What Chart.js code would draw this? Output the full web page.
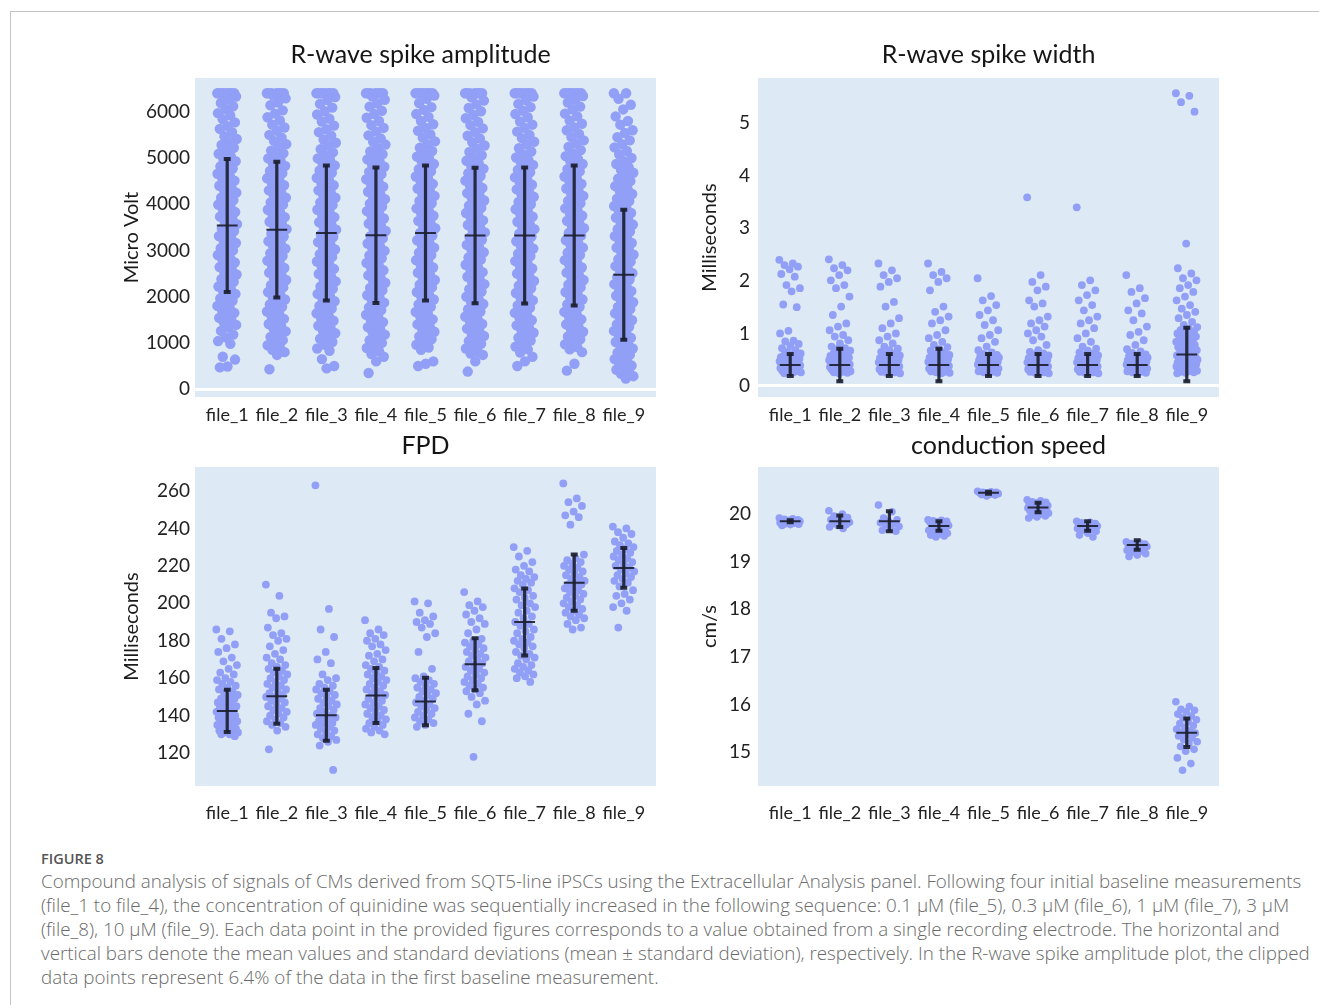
<!DOCTYPE html>
<html lang="en">
<head>
<meta charset="utf-8">
<title>Figure 8</title>
<script src="https://cdn.jsdelivr.net/npm/chart.js@4.4.1/dist/chart.umd.min.js"></script>
<style>
    html, body { margin: 0; padding: 0; background: #fff; }
    body { width: 1319px; height: 1005px; position: relative; overflow: hidden; }
    .frame { position: absolute; left: 10px; top: 11px; width: 1400px; height: 1100px;
             border-top: 1px solid #c4c4c4; border-left: 1px solid #c4c4c4; }
    canvas { position: absolute; }
    #caption { position: absolute; left: 41px; top: 849px; white-space: nowrap; color: #6a6a6a;
               font-family: "Open Sans", sans-serif; font-size: 18.8px; line-height: 24px; font-weight: 300; }
    #caption .fig { font-size: 14.5px; font-weight: 600; color: #555; line-height: 20px; }
</style>
</head>
<body>
<div class="frame"></div>
<canvas id="ampChart" width="570" height="410" style="left:100px;top:20px"></canvas>
<canvas id="widthChart" width="570" height="410" style="left:670px;top:20px"></canvas>
<canvas id="fpdChart" width="570" height="425" style="left:100px;top:420px"></canvas>
<canvas id="speedChart" width="570" height="425" style="left:670px;top:420px"></canvas>
<div id="caption">
    <div class="fig">FIGURE 8</div>
    Compound analysis of signals of CMs derived from SQT5-line iPSCs using the Extracellular Analysis panel. Following four initial baseline measurements<br>
    (file_1 to file_4), the concentration of quinidine was sequentially increased in the following sequence: 0.1 μM (file_5), 0.3 μM (file_6), 1 μM (file_7), 3 μM<br>
    (file_8), 10 μM (file_9). Each data point in the provided figures corresponds to a value obtained from a single recording electrode. The horizontal and<br>
    vertical bars denote the mean values and standard deviations (mean ± standard deviation), respectively. In the R-wave spike amplitude plot, the clipped<br>
    data points represent 6.4% of the data in the first baseline measurement.
</div>
<script>
// Categorias (um grupo por arquivo de medição)
const files = ['file_1', 'file_2', 'file_3', 'file_4', 'file_5', 'file_6', 'file_7', 'file_8', 'file_9'];

// R-wave spike amplitude (µV), valores cortados em 6400
const amp1 = [6400,6400,6400,6400,6400,6400,6400,6400,6330,6270,6190,6120,6060,5970,5920,5840,5770,5690,5630,5560,5470,5410,5350,5280,5220,5150,5090,5030,4980,4930,4870,4820,4770,4720,4660,4610,4560,4510,4460,4400,4350,4300,4250,4200,4140,4090,4040,3990,3940,3880,3830,3780,3730,3680,3620,3570,3520,3470,3420,3360,3310,3260,3210,3160,3100,3050,3000,2950,2900,2840,2790,2740,2690,2640,2580,2530,2480,2430,2380,2320,2270,2220,2170,2120,2060,2010,1960,1910,1860,1800,1750,1700,1650,1600,1540,1490,1440,1390,1330,1260,1180,1120,1040,980,700,640,490,470];
const amp2 = [6400,6400,6400,6400,6400,6400,6400,6350,6290,6200,6140,6030,5960,5880,5810,5720,5660,5590,5500,5440,5370,5300,5240,5160,5100,5040,4990,4940,4880,4830,4770,4720,4670,4620,4560,4510,4460,4410,4350,4300,4250,4200,4140,4090,4040,3990,3930,3880,3830,3780,3720,3670,3620,3570,3510,3460,3410,3360,3300,3250,3200,3150,3090,3040,2990,2940,2880,2830,2780,2730,2670,2620,2570,2520,2460,2410,2360,2310,2250,2200,2150,2100,2040,1990,1940,1890,1830,1780,1730,1680,1620,1570,1520,1470,1410,1360,1310,1250,1190,1130,1060,990,950,900,850,800,740,430];
const amp3 = [6400,6400,6400,6400,6400,6400,6400,6400,6320,6250,6170,6090,6010,5940,5850,5790,5700,5620,5560,5480,5400,5330,5270,5190,5120,5060,4990,4950,4890,4840,4780,4730,4680,4620,4570,4520,4460,4410,4360,4300,4250,4200,4140,4090,4040,3980,3930,3880,3820,3770,3720,3660,3610,3560,3500,3450,3400,3340,3290,3240,3180,3130,3080,3020,2970,2920,2860,2810,2760,2700,2650,2600,2540,2490,2440,2380,2330,2280,2220,2170,2120,2060,2010,1960,1900,1850,1800,1740,1690,1640,1580,1530,1480,1420,1370,1320,1260,1210,1150,1090,1020,960,880,830,650,500,450];
const amp4 = [6400,6400,6400,6400,6400,6400,6400,6330,6260,6180,6110,6020,5950,5870,5800,5710,5650,5570,5490,5420,5350,5290,5210,5140,5080,5020,4970,4920,4860,4810,4750,4700,4650,4590,4540,4490,4430,4380,4330,4270,4220,4170,4110,4060,4010,3950,3900,3850,3790,3740,3690,3630,3580,3530,3470,3420,3370,3310,3260,3210,3150,3100,3050,2990,2940,2890,2830,2780,2730,2670,2620,2570,2510,2460,2410,2350,2300,2250,2190,2140,2090,2030,1980,1930,1870,1820,1770,1710,1660,1610,1550,1500,1450,1390,1340,1290,1230,1180,1120,1060,1000,940,890,820,760,700,600,350];
const amp5 = [6400,6400,6400,6400,6400,6400,6400,6400,6350,6280,6190,6100,6040,5950,5890,5800,5730,5650,5590,5510,5440,5360,5300,5220,5150,5090,5030,4980,4930,4870,4820,4760,4710,4660,4600,4550,4500,4440,4390,4340,4280,4230,4180,4120,4070,4020,3960,3910,3860,3800,3750,3700,3640,3590,3540,3480,3430,3380,3320,3270,3220,3160,3110,3060,3000,2950,2900,2840,2790,2740,2680,2630,2580,2520,2470,2420,2360,2310,2260,2200,2150,2100,2040,1990,1940,1880,1830,1780,1720,1670,1620,1560,1510,1460,1400,1350,1300,1240,1190,1140,1080,1020,960,900,850,600,550,500];
const amp6 = [6400,6400,6400,6400,6400,6400,6400,6310,6240,6160,6080,6010,5930,5860,5780,5710,5640,5560,5480,5420,5340,5270,5200,5130,5060,4990,4940,4880,4830,4770,4720,4670,4610,4560,4510,4450,4400,4350,4290,4240,4190,4130,4080,4030,3970,3920,3870,3810,3760,3710,3650,3600,3550,3490,3440,3390,3330,3280,3230,3170,3120,3070,3010,2960,2910,2850,2800,2750,2690,2640,2590,2530,2480,2430,2370,2320,2270,2210,2160,2110,2050,2000,1950,1890,1840,1790,1730,1680,1630,1570,1520,1470,1410,1360,1310,1250,1200,1150,1090,1040,980,930,880,800,770,740,600,380];
const amp7 = [6400,6400,6400,6400,6400,6400,6400,6400,6330,6250,6170,6100,6020,5950,5880,5790,5720,5650,5570,5500,5430,5350,5290,5210,5140,5070,5010,4960,4910,4850,4800,4740,4690,4640,4580,4530,4480,4420,4370,4320,4260,4210,4160,4100,4050,4000,3940,3890,3840,3780,3730,3680,3620,3570,3520,3460,3410,3360,3300,3250,3200,3140,3090,3040,2980,2930,2880,2820,2770,2720,2660,2610,2560,2500,2450,2400,2340,2290,2240,2180,2130,2080,2020,1970,1920,1860,1810,1760,1700,1650,1600,1540,1490,1440,1380,1330,1280,1220,1170,1110,1050,990,920,860,790,700,600,500];
const amp8 = [6400,6400,6400,6400,6400,6400,6400,6400,6340,6260,6200,6110,6050,5960,5900,5810,5740,5660,5600,5520,5450,5380,5310,5240,5170,5100,5040,4980,4930,4870,4820,4760,4710,4660,4600,4550,4500,4440,4390,4340,4280,4230,4180,4120,4070,4020,3960,3910,3860,3800,3750,3700,3640,3590,3540,3480,3430,3380,3320,3270,3220,3160,3110,3060,3000,2950,2900,2840,2790,2740,2680,2630,2580,2520,2470,2420,2360,2310,2260,2200,2150,2100,2040,1990,1940,1880,1830,1780,1720,1670,1620,1560,1510,1460,1400,1350,1300,1240,1190,1140,1080,1030,970,910,860,800,550,400];
const amp9 = [6400,6400,6280,6150,6050,5900,5800,5720,5600,5540,5450,5380,5300,5230,5150,5080,5000,4930,4870,4800,4740,4680,4610,4550,4500,4440,4390,4330,4280,4220,4170,4120,4070,4020,3960,3910,3860,3810,3760,3710,3660,3610,3560,3510,3460,3410,3360,3310,3260,3210,3160,3110,3060,3010,2960,2910,2860,2810,2760,2710,2660,2610,2560,2510,2460,2420,2370,2320,2270,2220,2170,2120,2070,2020,1980,1930,1880,1830,1780,1730,1690,1640,1590,1540,1490,1450,1400,1350,1300,1260,1210,1160,1110,1070,1020,970,930,880,830,790,740,690,650,600,560,510,470,420,380,330,280,230];
const ampMean = [3540, 3450, 3375, 3330, 3380, 3325, 3325, 3325, 2475];
const ampSd = [1440, 1470, 1460, 1465, 1460, 1465, 1470, 1515, 1405];
const ampTicks = [0, 1000, 2000, 3000, 4000, 5000, 6000];

// R-wave spike width (ms)
const wid1 = [2.40,2.33,2.30,2.27,2.22,2.13,2.08,1.92,1.86,1.80,1.55,1.50,1.05,1.00,0.86,0.85,0.80,0.76,0.72,0.68,0.65,0.62,0.60,0.58,0.57,0.56,0.55,0.54,0.53,0.52,0.51,0.50,0.49,0.48,0.47,0.46,0.45,0.44,0.43,0.42,0.41,0.40,0.39,0.38,0.37,0.36,0.35,0.34,0.33,0.32,0.31,0.30,0.29,0.28,0.27,0.26,0.25,0.24];
const wid2 = [2.41,2.30,2.24,2.20,2.11,2.01,1.92,1.86,1.70,1.51,1.35,1.19,1.13,1.06,0.97,0.94,0.87,0.81,0.75,0.72,0.70,0.67,0.64,0.62,0.60,0.58,0.57,0.56,0.55,0.54,0.53,0.52,0.51,0.50,0.49,0.48,0.47,0.46,0.45,0.44,0.43,0.42,0.41,0.40,0.39,0.38,0.37,0.36,0.35,0.34,0.33,0.32,0.31,0.30,0.29,0.28,0.27,0.26,0.25,0.24];
const wid3 = [2.33,2.20,2.11,2.05,1.98,1.89,1.60,1.51,1.29,1.19,1.10,1.00,0.94,0.87,0.81,0.75,0.71,0.68,0.65,0.62,0.60,0.58,0.57,0.56,0.55,0.54,0.53,0.52,0.51,0.50,0.49,0.48,0.47,0.46,0.45,0.44,0.43,0.42,0.41,0.40,0.39,0.38,0.37,0.36,0.35,0.34,0.33,0.32,0.31,0.30,0.29,0.28,0.27,0.26,0.25,0.24];
const wid4 = [2.33,2.17,2.11,2.05,1.98,1.82,1.51,1.41,1.32,1.25,1.19,1.06,0.97,0.91,0.84,0.78,0.74,0.70,0.67,0.64,0.61,0.59,0.58,0.57,0.56,0.55,0.54,0.53,0.52,0.51,0.50,0.49,0.48,0.47,0.46,0.45,0.44,0.43,0.42,0.41,0.40,0.39,0.38,0.37,0.36,0.35,0.34,0.33,0.32,0.31,0.30,0.29,0.28,0.27,0.26,0.25,0.24];
const wid5 = [2.05,1.71,1.63,1.54,1.44,1.35,1.25,1.16,1.06,0.97,0.91,0.84,0.75,0.68,0.64,0.61,0.59,0.58,0.57,0.56,0.55,0.54,0.53,0.52,0.51,0.50,0.49,0.48,0.47,0.46,0.45,0.44,0.43,0.42,0.41,0.40,0.39,0.38,0.37,0.36,0.35,0.34,0.33,0.32,0.31,0.30,0.29,0.28,0.27,0.26,0.25,0.24];
const wid6 = [3.59,2.11,1.98,1.89,1.82,1.63,1.57,1.51,1.32,1.25,1.19,1.13,1.06,1.00,0.94,0.87,0.78,0.68,0.65,0.62,0.60,0.58,0.57,0.56,0.55,0.54,0.53,0.52,0.51,0.50,0.49,0.48,0.47,0.46,0.45,0.44,0.43,0.42,0.41,0.40,0.39,0.38,0.37,0.36,0.35,0.34,0.33,0.32,0.31,0.30,0.29,0.28,0.27,0.26,0.25,0.24];
const wid7 = [3.40,2.01,1.92,1.82,1.73,1.63,1.54,1.44,1.32,1.25,1.19,1.10,1.00,0.91,0.84,0.75,0.71,0.67,0.64,0.61,0.59,0.58,0.57,0.56,0.55,0.54,0.53,0.52,0.51,0.50,0.49,0.48,0.47,0.46,0.45,0.44,0.43,0.42,0.41,0.40,0.39,0.38,0.37,0.36,0.35,0.34,0.33,0.32,0.31,0.30,0.29,0.28,0.27,0.26,0.25,0.24];
const wid8 = [2.11,1.86,1.79,1.67,1.57,1.44,1.38,1.25,1.13,1.03,0.97,0.87,0.78,0.70,0.66,0.63,0.60,0.58,0.57,0.56,0.55,0.54,0.53,0.52,0.51,0.50,0.49,0.48,0.47,0.46,0.45,0.44,0.43,0.42,0.41,0.40,0.39,0.38,0.37,0.36,0.35,0.34,0.33,0.32,0.31,0.30,0.29,0.28,0.27,0.26,0.25,0.24];
const wid9 = [5.57,5.52,5.40,5.22,2.71,2.24,2.14,2.05,2.01,1.92,1.86,1.79,1.70,1.63,1.54,1.47,1.41,1.35,1.29,1.22,1.16,1.12,1.09,1.06,1.04,1.02,1.00,0.98,0.96,0.94,0.92,0.90,0.88,0.86,0.84,0.82,0.80,0.78,0.76,0.74,0.72,0.70,0.68,0.66,0.64,0.62,0.60,0.58,0.57,0.56,0.55,0.54,0.53,0.52,0.51,0.50,0.49,0.48,0.47,0.46,0.45,0.44,0.43,0.42,0.41,0.40,0.39,0.38,0.37,0.36,0.35,0.34,0.33,0.32,0.31,0.30,0.29,0.28,0.27,0.26,0.25,0.24];
const widMean = [0.40, 0.40, 0.40, 0.40, 0.40, 0.40, 0.40, 0.40, 0.60];
const widSd = [0.21, 0.31, 0.21, 0.31, 0.21, 0.21, 0.21, 0.21, 0.51];
const widTicks = [0, 1, 2, 3, 4, 5];

// FPD (ms)
const fpd1 = [186,185,181,178,176,174,171,169,167,165,163,162,160,159,158,157,156,155,154,153,152,151,150,149,149,148,147,147,146,145,145,144,143,143,142,141,141,140,140,139,138,138,137,137,136,136,135,135,134,134,133,133,132,132,131,131,130,130,129];
const fpd2 = [210,204,195,193,192,187,184,183,181,180,177,175,173,171,170,168,167,166,165,164,163,162,161,160,159,158,157,156,155,154,153,152,151,150,150,149,148,147,146,145,144,143,142,141,140,139,138,137,136,135,134,132,122];
const fpd3 = [263,197,186,182,174,170,168,162,160,159,157,156,155,154,153,152,151,150,149,148,147,146,145,144,143,142,141,140,140,139,138,137,136,136,135,134,133,132,131,130,129,128,127,126,124,111];
const fpd4 = [191,186,184,183,181,180,178,177,175,173,172,170,169,167,166,165,164,163,162,161,160,159,158,157,156,155,154,153,152,151,150,149,148,147,146,145,144,143,142,141,140,139,138,137,136,135,134,133,132,131,130];
const fpd5 = [201,200,195,193,191,190,189,187,184,182,174,165,161,160,159,158,157,156,155,154,153,152,151,150,149,148,147,146,145,144,143,142,141,140,139,138,137,136,135,134];
const fpd6 = [206,201,199,198,196,194,192,190,189,186,184,181,180,179,178,177,176,175,174,173,172,171,170,169,168,167,166,165,164,163,162,161,160,159,158,157,156,155,154,153,152,150,148,146,141,137,118];
const fpd7 = [230,228,225,222,220,218,217,215,214,213,212,211,210,208,207,206,204,203,202,200,199,198,196,195,193,192,190,189,188,186,185,184,182,181,180,179,178,177,176,174,173,172,171,170,168,167,166,165,164,163,162,161,160,158];
const fpd8 = [264,256,254,252,249,247,246,242,226,224,223,222,221,220,219,218,217,216,215,214,213,212,211,210,210,209,208,207,206,205,204,203,202,201,200,199,198,197,196,195,194,193,192,191,189,187,186];
const fpd9 = [241,240,238,237,235,233,232,231,230,229,228,227,226,225,224,223,222,221,220,219,218,217,216,215,214,213,212,211,209,207,205,204,202,200,198,196,187];
const fpdMean = [142.5, 150.3, 140.2, 150.7, 147.5, 167.4, 190.0, 211.0, 218.9];
const fpdSd = [11.3, 14.7, 13.6, 14.7, 12.7, 13.9, 17.9, 15.0, 10.6];
const fpdTicks = [120, 140, 160, 180, 200, 220, 240, 260];

// conduction speed (cm/s)
const spd1 = [19.92,19.90,19.89,19.88,19.87,19.86,19.86,19.85,19.85,19.84,19.84,19.83,19.83,19.82,19.81,19.80,19.79,19.78,19.76];
const spd2 = [20.07,20.00,19.96,19.93,19.90,19.88,19.86,19.85,19.83,19.82,19.80,19.78,19.76,19.73,19.70];
const spd3 = [20.19,20.05,19.92,19.88,19.85,19.82,19.80,19.77,19.74,19.70,19.66,19.64];
const spd4 = [19.88,19.87,19.86,19.85,19.84,19.83,19.80,19.78,19.76,19.74,19.72,19.70,19.68,19.66,19.64,19.62,19.60,19.58,19.56,19.54,19.52];
const spd5 = [20.48,20.47,20.46,20.46,20.45,20.45,20.44,20.44,20.43,20.42,20.41,20.40,20.38];
const spd6 = [20.30,20.28,20.26,20.25,20.24,20.22,20.21,20.20,20.18,20.17,20.16,20.15,20.14,20.13,20.12,20.11,20.10,20.08,20.07,20.05,20.04,20.02,20.00,19.98,19.96,19.94,19.92];
const spd7 = [19.85,19.83,19.82,19.80,19.79,19.78,19.77,19.76,19.75,19.74,19.73,19.72,19.71,19.70,19.68,19.66,19.64,19.60,19.56,19.52];
const spd8 = [19.42,19.40,19.38,19.37,19.36,19.35,19.34,19.33,19.32,19.31,19.30,19.28,19.26,19.24,19.22,19.20,19.17,19.14,19.11];
const spd9 = [16.06,15.96,15.90,15.88,15.85,15.80,15.76,15.72,15.68,15.64,15.60,15.56,15.52,15.48,15.45,15.42,15.40,15.37,15.34,15.30,15.26,15.22,15.18,15.12,15.06,15.02,14.88,14.76,14.62];
const spdMean = [19.85, 19.85, 19.85, 19.75, 20.45, 20.14, 19.75, 19.35, 15.41];
const spdSd = [0.02, 0.12, 0.21, 0.10, 0.02, 0.10, 0.10, 0.10, 0.30];
const spdTicks = [15, 16, 17, 18, 19, 20];

// Estilo comum
const POINT_COLOR = '#919ff6';
const BAR_COLOR = 'rgba(28, 32, 48, 0.92)';
const PLOT_BG = '#dde9f4';
const CAP = 0.07;
const MEAN_HALF = 0.21;

Chart.defaults.font.family = 'Lato, "Open Sans", sans-serif';
Chart.defaults.color = '#222';

// Deslocamento horizontal determinístico para espalhar os pontos de cada grupo
const jitter = (j, spread) => ((j * 0.6180339887) % 1 - 0.5) * 2 * spread;

const stripPoints = (groups, spread) => {
    const pts = [];
    groups.forEach((vals, i) => {
        vals.forEach((v, j) => pts.push({ x: i + jitter(j, spread), y: v }));
    });
    return pts;
};

const errorBarSets = (mean, sd) => {
    const stems = [], caps = [], means = [];
    mean.forEach((m, i) => {
        const lo = m - sd[i], hi = m + sd[i];
        stems.push({ x: i, y: lo }, { x: i, y: hi }, { x: i, y: null });
        caps.push({ x: i - CAP, y: lo }, { x: i + CAP, y: lo }, { x: i, y: null },
                  { x: i - CAP, y: hi }, { x: i + CAP, y: hi }, { x: i, y: null });
        means.push({ x: i - MEAN_HALF, y: m }, { x: i + MEAN_HALF, y: m }, { x: i, y: null });
    });
    const line = (data, width) => ({
        type: 'line', data, borderColor: BAR_COLOR, borderWidth: width, pointRadius: 0,
        fill: false, spanGaps: false, borderCapStyle: 'butt', order: 0
    });
    return [line(stems, 3.2), line(caps, 4), line(means, 2)];
};

// Fundo azul claro da área do gráfico
const plotBackground = {
    id: 'plotBackground',
    beforeDraw(chart) {
        const { ctx, chartArea: a } = chart;
        ctx.save();
        ctx.fillStyle = PLOT_BG;
        ctx.fillRect(a.left, a.top, a.right - a.left, a.bottom - a.top);
        ctx.restore();
    }
};

// Título do painel, centrado acima da área do gráfico
const panelTitle = {
    id: 'panelTitle',
    afterDraw(chart, args, opts) {
        const { ctx, chartArea: a } = chart;
        ctx.save();
        ctx.font = '25px Lato, "Open Sans", sans-serif';
        ctx.fillStyle = '#151515';
        ctx.textAlign = 'center';
        ctx.textBaseline = 'middle';
        ctx.fillText(opts.text, (a.left + a.right) / 2 + (opts.dx || 0), a.top - opts.gap);
        ctx.restore();
    }
};

const makePanel = (canvasId, cfg) => {
    const ctx = document.getElementById(canvasId).getContext('2d');
    return new Chart(ctx, {
        type: 'scatter',
        data: {
            datasets: [
                ...errorBarSets(cfg.mean, cfg.sd),
                {
                    data: stripPoints(cfg.groups, cfg.spread),
                    backgroundColor: POINT_COLOR,
                    borderWidth: 0,
                    pointRadius: cfg.radius,
                    pointHoverRadius: cfg.radius,
                    order: 1
                }
            ]
        },
        options: {
            responsive: false,
            animation: false,
            devicePixelRatio: 1,
            layout: { padding: { top: cfg.top, right: cfg.right, bottom: 0, left: 0 } },
            plugins: {
                legend: { display: false },
                tooltip: { enabled: false },
                panelTitle: { text: cfg.title, gap: cfg.titleGap, dx: cfg.titleDx || 0 }
            },
            scales: {
                x: {
                    type: 'linear',
                    min: -0.65,
                    max: 8.65,
                    afterBuildTicks: s => { s.ticks = files.map((f, i) => ({ value: i })); },
                    afterFit: s => { s.height = cfg.bottom; },
                    ticks: {
                        callback: v => files[v],
                        autoSkip: false,
                        maxRotation: 0,
                        padding: cfg.xPad,
                        font: { size: 18 },
                        color: '#222'
                    },
                    grid: { display: false, drawTicks: false },
                    border: { display: false }
                },
                y: {
                    min: cfg.yMin,
                    max: cfg.yMax,
                    afterBuildTicks: s => { s.ticks = cfg.ticks.map(v => ({ value: v })); },
                    afterFit: s => { s.width = cfg.left; },
                    ticks: {
                        callback: v => String(v),
                        padding: cfg.yPad,
                        font: { size: 19 },
                        color: '#222'
                    },
                    grid: {
                        drawTicks: false,
                        lineWidth: 3,
                        color: c => (c.tick && c.tick.value === 0 ? '#ffffff' : 'rgba(0,0,0,0)')
                    },
                    border: { display: false },
                    title: {
                        display: true,
                        text: cfg.yTitle,
                        font: { size: 20 },
                        color: '#1a1a1a',
                        padding: { top: cfg.yTitlePad, bottom: 0 }
                    }
                }
            }
        },
        plugins: [plotBackground, panelTitle]
    });
};

makePanel('ampChart', {
    title: 'R-wave spike amplitude', titleGap: 23, titleDx: -5,
    groups: [amp1, amp2, amp3, amp4, amp5, amp6, amp7, amp8, amp9],
    mean: ampMean, sd: ampSd, ticks: ampTicks, yMin: -170, yMax: 6730,
    yTitle: 'Micro Volt', radius: 5.2, spread: 0.2,
    left: 95, top: 58, right: 14, bottom: 33, xPad: 7, yPad: 5, yTitlePad: 20
});

makePanel('widthChart', {
    title: 'R-wave spike width', titleGap: 23,
    groups: [wid1, wid2, wid3, wid4, wid5, wid6, wid7, wid8, wid9],
    mean: widMean, sd: widSd, ticks: widTicks, yMin: -0.21, yMax: 5.86,
    yTitle: 'Milliseconds', radius: 3.9, spread: 0.22,
    left: 88, top: 58, right: 21, bottom: 33, xPad: 7, yPad: 8, yTitlePad: 28
});

makePanel('fpdChart', {
    title: 'FPD', titleGap: 21,
    groups: [fpd1, fpd2, fpd3, fpd4, fpd5, fpd6, fpd7, fpd8, fpd9],
    mean: fpdMean, sd: fpdSd, ticks: fpdTicks, yMin: 102.4, yMax: 272.8,
    yTitle: 'Milliseconds', radius: 3.9, spread: 0.22,
    left: 95, top: 47, right: 14, bottom: 59, xPad: 16, yPad: 5, yTitlePad: 20
});

makePanel('speedChart', {
    title: 'conduction speed', titleGap: 21, titleDx: 20,
    groups: [spd1, spd2, spd3, spd4, spd5, spd6, spd7, spd8, spd9],
    mean: spdMean, sd: spdSd, ticks: spdTicks, yMin: 14.29, yMax: 20.99,
    yTitle: 'cm/s', radius: 3.8, spread: 0.22,
    left: 88, top: 47, right: 21, bottom: 59, xPad: 16, yPad: 7, yTitlePad: 28
});
</script>
</body>
</html>
